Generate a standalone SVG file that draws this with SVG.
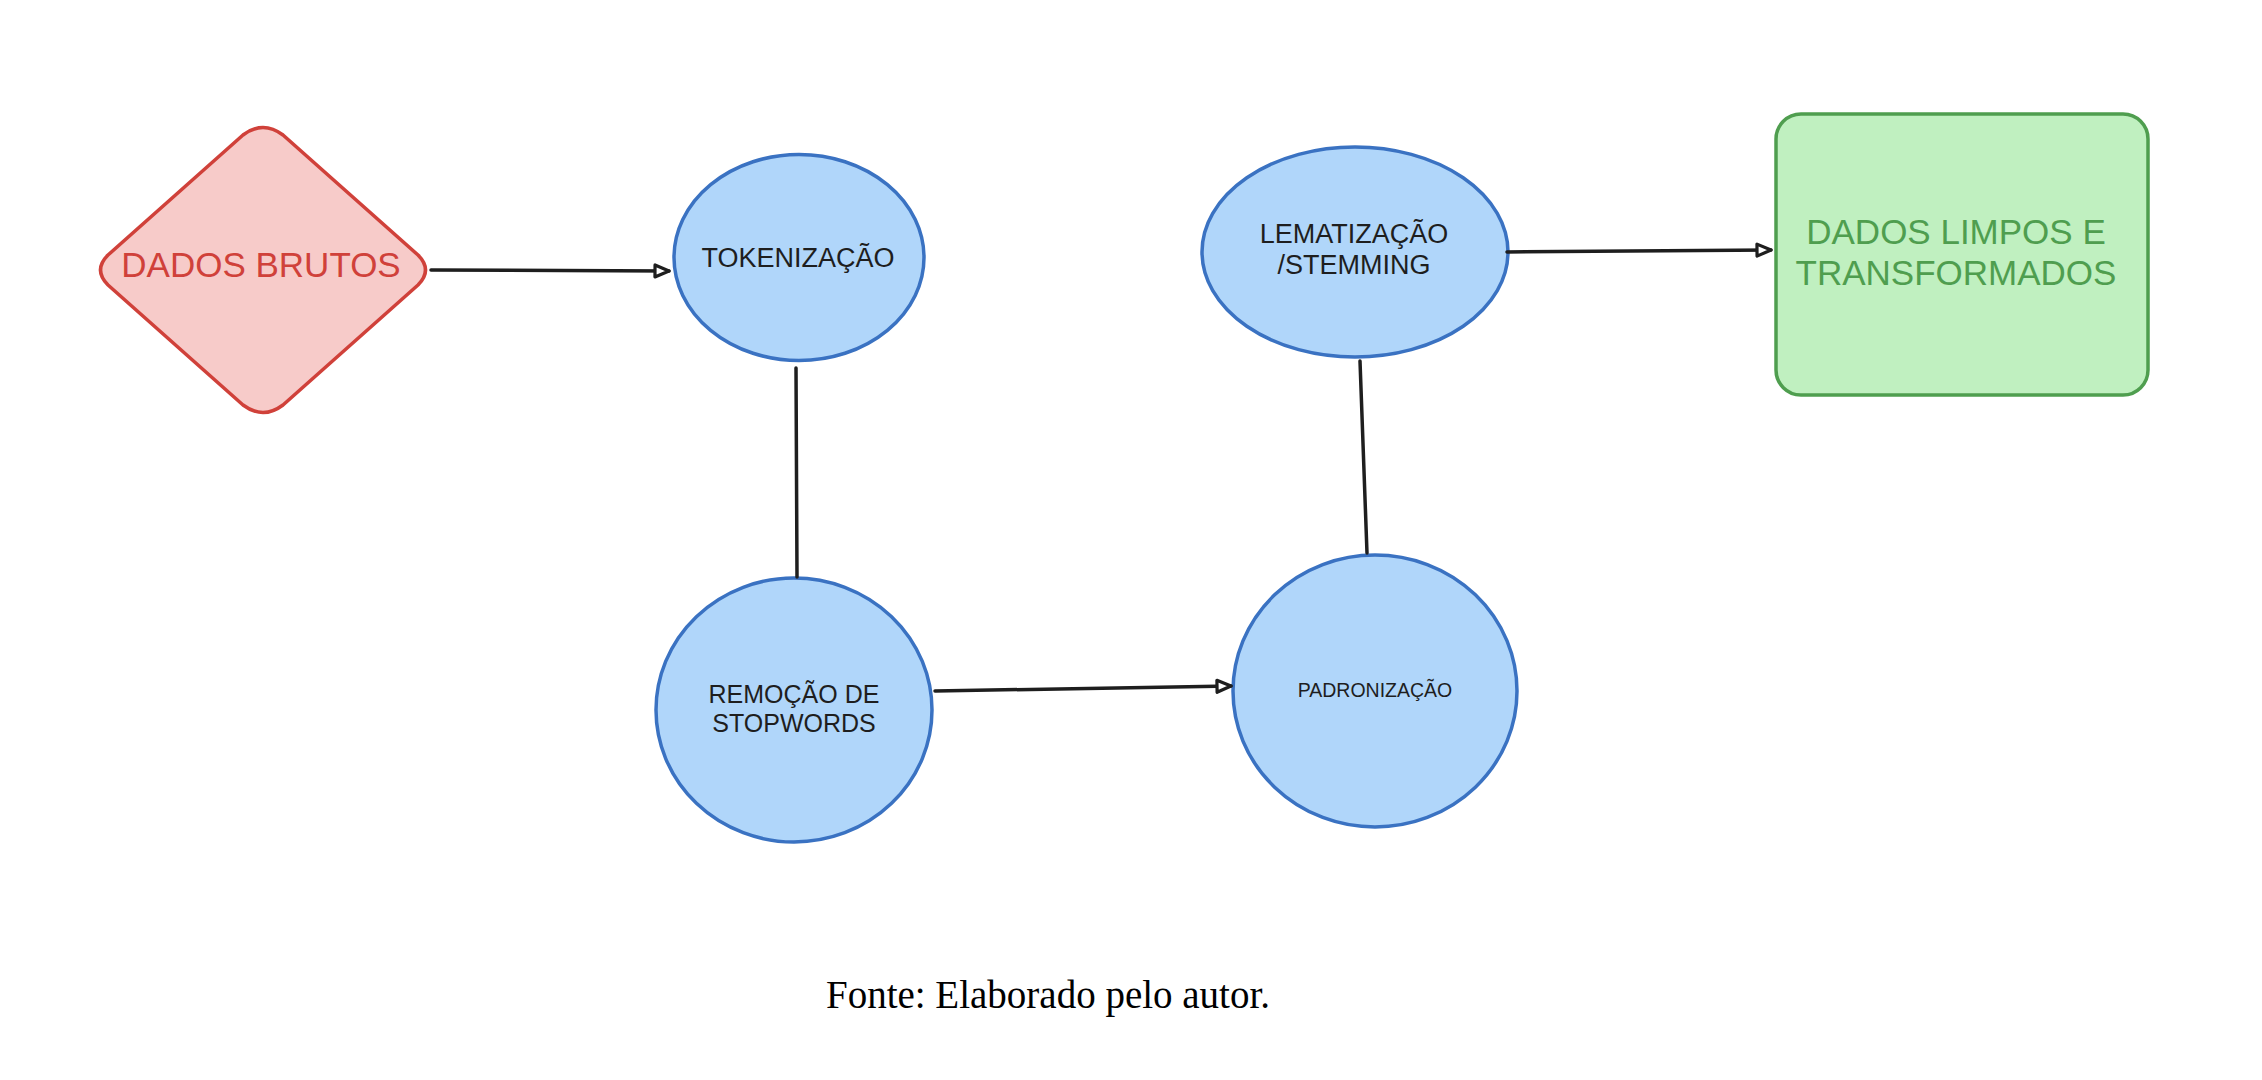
<svg xmlns="http://www.w3.org/2000/svg" width="2262" height="1080" viewBox="0 0 2262 1080">
<defs>
<marker id="arrow" viewBox="0 0 18 16" refX="16" refY="8" markerWidth="18" markerHeight="16" markerUnits="userSpaceOnUse" orient="auto">
<path d="M2,2 L16,8 L2,14 Z" fill="#ffffff" stroke="#1e1e1e" stroke-width="3.2" stroke-linejoin="round"/>
</marker>
<style>
.proc{fill:#b0d6fa;stroke:#3a72c2;stroke-width:3.5}
.lbl{font-family:"Liberation Sans",Arial,sans-serif;fill:#1e1e1e;text-anchor:middle}
.conn{stroke:#1e1e1e;stroke-width:3.5;fill:none;stroke-linecap:round}
</style>
</defs>
<rect width="2262" height="1080" fill="#ffffff"/>
<g id="dados-brutos">
<path d="M243,135 Q263,120 283,135 L418,255 Q433,270 418,285 L283,405 Q263,420 243,405 L108,285 Q93,270 108,255 Z" fill="#f7cbc9" stroke="#d0413a" stroke-width="3.5" stroke-linejoin="round"/>
<text x="261" y="277" class="lbl" style="fill:#d0413a;font-size:35px">DADOS BRUTOS</text>
</g>
<g id="tokenizacao">
<ellipse cx="799" cy="257.5" rx="125" ry="103" class="proc"/>
<text x="798" y="267" class="lbl" style="font-size:27px">TOKENIZAÇÃO</text>
</g>
<g id="remocao">
<ellipse cx="794" cy="710" rx="138" ry="132" class="proc"/>
<text class="lbl" style="font-size:25px"><tspan x="794" y="703">REMOÇÃO DE</tspan><tspan x="794" y="732">STOPWORDS</tspan></text>
</g>
<g id="padronizacao">
<ellipse cx="1375" cy="691" rx="142" ry="136" class="proc"/>
<text x="1375" y="697" class="lbl" style="font-size:19.5px">PADRONIZAÇÃO</text>
</g>
<g id="lematizacao">
<ellipse cx="1355" cy="252" rx="153" ry="105" class="proc"/>
<text class="lbl" style="font-size:27px"><tspan x="1354" y="243">LEMATIZAÇÃO</tspan><tspan x="1354" y="274">/STEMMING</tspan></text>
</g>
<g id="dados-limpos">
<rect x="1776" y="114" width="372" height="281" rx="25" ry="25" fill="#c0f0c0" stroke="#4f9e4f" stroke-width="3.5"/>
<text class="lbl" style="fill:#4f9e4f;font-size:35px"><tspan x="1956" y="244">DADOS LIMPOS E</tspan><tspan x="1956" y="285">TRANSFORMADOS</tspan></text>
</g>
<g id="connectors">
<path d="M431,270 L669,271" class="conn" marker-end="url(#arrow)"/>
<path d="M796,368 L797,577" class="conn" stroke-width="3"/>
<path d="M935,691 L1231,686" class="conn" marker-end="url(#arrow)"/>
<path d="M1367,553 L1360,361" class="conn" stroke-width="3"/>
<path d="M1507,252 L1771,250" class="conn" marker-end="url(#arrow)"/>
</g>
<text x="1048" y="1008" style="font-family:'Liberation Serif','Times New Roman',serif;font-size:39px;fill:#000000;text-anchor:middle">Fonte: Elaborado pelo autor.</text>
</svg>
